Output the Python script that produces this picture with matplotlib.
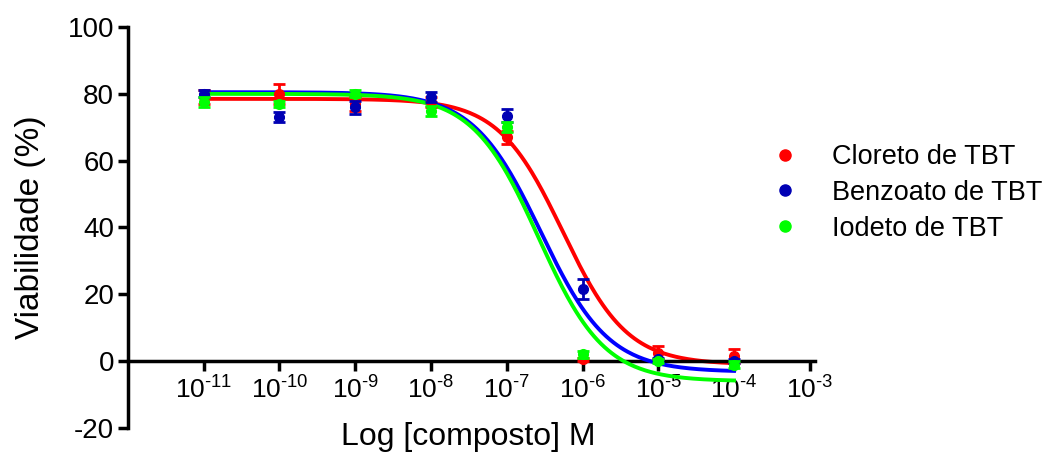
import numpy as np
import matplotlib
matplotlib.use("Agg")
import matplotlib.pyplot as plt

plt.rcParams['font.family'] = ['Liberation Sans', 'DejaVu Sans']
plt.rcParams['mathtext.fontset'] = 'custom'
plt.rcParams['mathtext.rm'] = 'Liberation Sans'
plt.rcParams['axes.unicode_minus'] = False

# Data (log10 concentration, viability %)
log_conc = [-11, -10, -9, -8, -7, -6, -5, -4]
series_names = ["Cloreto de TBT", "Benzoato de TBT", "Iodeto de TBT"]

cloreto_mean = [79, 80, 77, 77.5, 67, 0.5, 2.5, 1.5]
cloreto_err = [2, 3, 2, 1.5, 2, 0.5, 2, 2]
benzoato_mean = [80, 73, 76, 79, 73.5, 21.5, 0.5, 0]
benzoato_err = [1, 1.5, 2, 1.5, 2, 3, 0.5, 0.5]
iodeto_mean = [77.5, 77, 80, 75, 70, 2, 0, -1]
iodeto_err = [1.5, 1, 1, 1.5, 1.5, 1, 0.5, 1]

# Fitted sigmoid parameters: top, bottom, logIC50, hill slope
cloreto_fit = [78.5, -1.0, -6.26, 1.02]
benzoato_fit = [80.5, -3.2, -6.55, 0.97]
iodeto_fit = [80.0, -6.0, -6.58, 1.0]

x_ticks = [-11, -10, -9, -8, -7, -6, -5, -4, -3]
x_tick_labels = [r"$\mathregular{10^{\text{-}%d}}$" % abs(v) for v in x_ticks]
y_ticks = [-20, 0, 20, 40, 60, 80, 100]

curve_colors = ["#FF0000", "#0000FF", "#00FF00"]
marker_colors = ["#FF0000", "#0000B4", "#00FF00"]

fig = plt.figure(figsize=(10.49, 4.53), dpi=100)
ax = fig.add_axes([0.122, 0.0552, 0.655, 0.8852])

xs = np.linspace(-11, -4, 300)
def model(x, p):
    top, bottom, c, h = p
    return bottom + (top - bottom) / (1 + 10 ** ((x - c) * h))

means = [cloreto_mean, benzoato_mean, iodeto_mean]
errs = [cloreto_err, benzoato_err, iodeto_err]
fits = [cloreto_fit, benzoato_fit, iodeto_fit]

for idx in [2, 0, 1]:
    ax.plot(xs, model(xs, fits[idx]), color=curve_colors[idx], lw=2.8, zorder=2 + idx)
for idx in [2, 1, 0]:
    ax.errorbar(log_conc, means[idx], yerr=errs[idx], fmt='o', color=marker_colors[idx],
                ms=7, elinewidth=2, capsize=4.5, capthick=2, zorder=6 + idx)

legend_handles = [plt.Line2D([], [], marker='o', ls='none', color=marker_colors[i], ms=8)
                  for i in range(3)]
fig.legend(legend_handles, series_names, loc='upper left', bbox_to_anchor=(0.735, 0.682),
           frameon=False, fontsize=19.5, handlelength=1.0, handletextpad=1.25,
           labelspacing=0.36, borderpad=0, borderaxespad=0)

ax.set_xlim(-12, -2.93)
ax.set_ylim(-20, 100)
ax.spines['top'].set_visible(False)
ax.spines['right'].set_visible(False)
ax.spines['bottom'].set_position(('data', 0))
ax.spines['left'].set_linewidth(2.5)
ax.spines['bottom'].set_linewidth(2.5)
ax.set_xticks(x_ticks)
ax.set_xticklabels(x_tick_labels)
ax.set_yticks(y_ticks)
ax.tick_params(axis='both', width=2.5, length=7, direction='out')
ax.tick_params(axis='y', labelsize=20, pad=3)
ax.tick_params(axis='x', labelsize=19, pad=4)
ax.set_xlabel("Log [composto] M", fontsize=23)
ax.set_ylabel("Viabilidade (%)", fontsize=24)
ax.xaxis.set_label_coords(0.495, 0.016)
ax.yaxis.set_label_coords(-0.12, 0.5)

fig.savefig("out.png", dpi=100)
